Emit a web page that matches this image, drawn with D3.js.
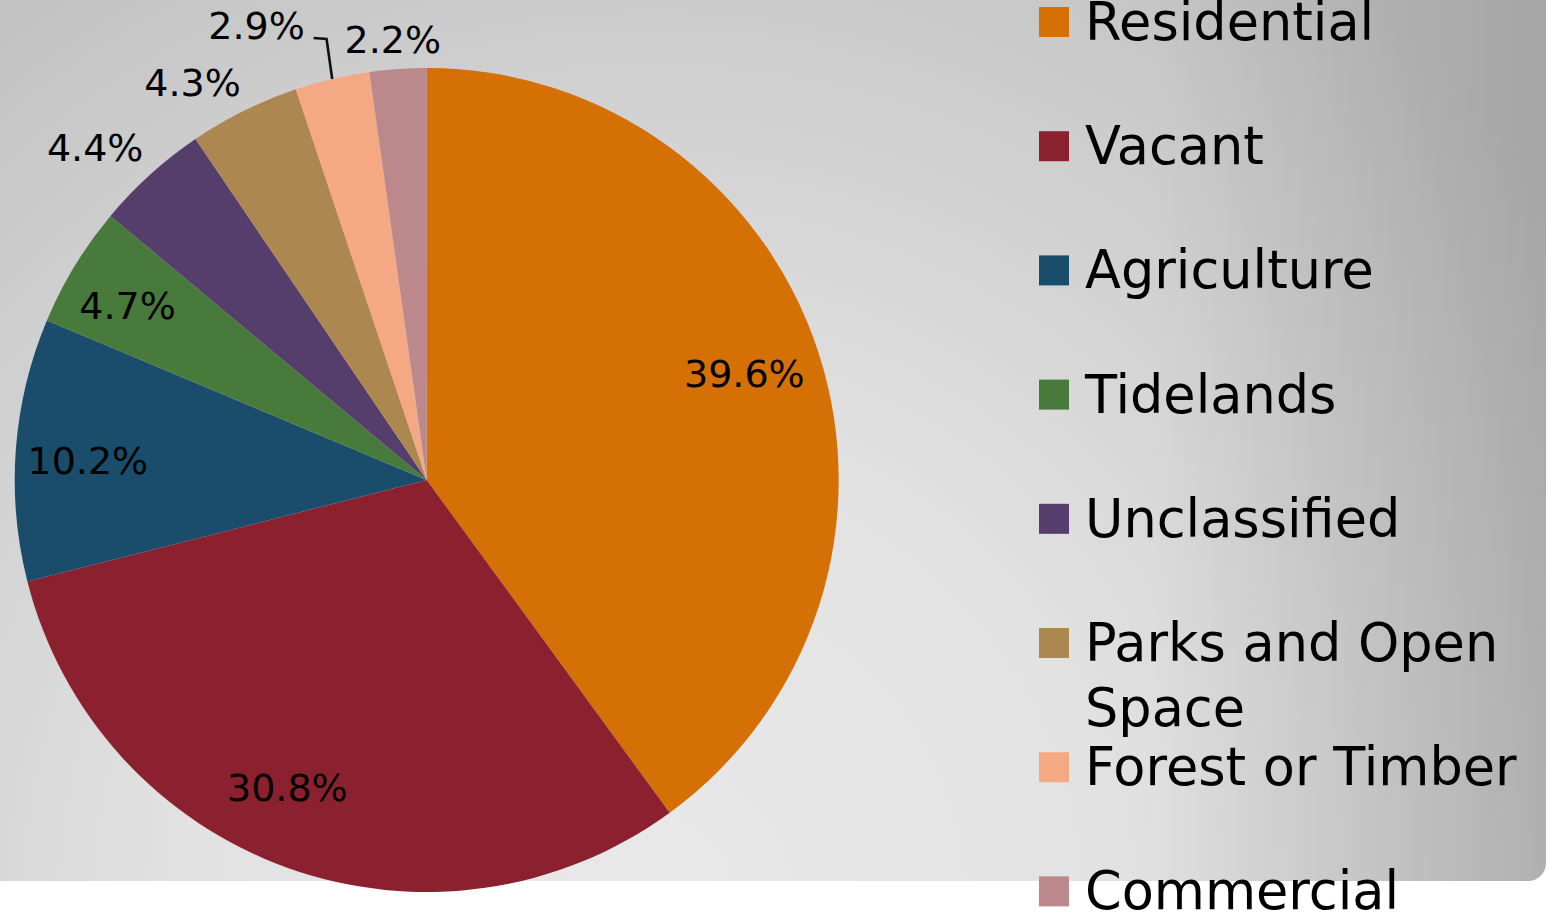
<!DOCTYPE html>
<html>
<head>
<meta charset="utf-8">
<script src="https://cdn.jsdelivr.net/npm/d3@7"></script>
<style>
  html, body { margin: 0; padding: 0; background: #ffffff; overflow: hidden; }
  svg { display: block; }
</style>
</head>
<body>
<svg id="chart" width="1548" height="913"></svg>
<script>
// ---- data ----
const categories = ["Residential", "Vacant", "Agriculture", "Tidelands", "Unclassified", "Parks and Open Space", "Forest or Timber", "Commercial"];
const shares = [39.6, 30.8, 10.2, 4.7, 4.4, 4.3, 2.9, 2.2];
const sliceColors = ["#d57005", "#8b212f", "#194d6b", "#477a3b", "#553e6b", "#ad8750", "#f5a884", "#bb888b"];

// ---- layout (label placement as polar angle in degrees / radius factor) ----
const labelPolar = [[71.5, 0.813], [204.4, 0.819], [273.4, 0.824], [300.3, 0.841], [315.1, 1.14], [329.5, 1.12], [339.5, 1.179], [355.6, 1.074]];

const W = 1548, H = 913;
const cx = 426.7, cy = 480, R = 412;
const svg = d3.select("#chart");

// background
const defs = svg.append("defs");
const rg = defs.append("radialGradient").attr("id", "bg")
  .attr("gradientUnits", "userSpaceOnUse")
  .attr("cx", 650).attr("cy", 900).attr("r", 1150)
  .attr("fx", 650).attr("fy", 900);
rg.append("stop").attr("offset", 0).attr("stop-color", "#e9e9e9");
rg.append("stop").attr("offset", 0.4).attr("stop-color", "#e2e2e2");
rg.append("stop").attr("offset", 0.8).attr("stop-color", "#cbcbcb");
rg.append("stop").attr("offset", 1).attr("stop-color", "#c0c0c0");
const lg = defs.append("linearGradient").attr("id", "shade")
  .attr("gradientUnits", "userSpaceOnUse")
  .attr("x1", 1150).attr("y1", 0).attr("x2", 1548).attr("y2", 0);
lg.append("stop").attr("offset", 0).attr("stop-color", "#000").attr("stop-opacity", 0);
lg.append("stop").attr("offset", 1).attr("stop-color", "#000").attr("stop-opacity", 0.14);

svg.append("rect").attr("x", -30).attr("y", -30).attr("width", 1576).attr("height", 911)
  .attr("rx", 18).attr("fill", "url(#bg)");
svg.append("rect").attr("x", -30).attr("y", -30).attr("width", 1576).attr("height", 911)
  .attr("rx", 18).attr("fill", "url(#shade)");

// pie
const data = categories.map((c, i) => ({ name: c, value: shares[i], color: sliceColors[i], lp: labelPolar[i] }));
const pie = d3.pie().sort(null).value(d => d.value);
const arcs = pie(data);
const arc = d3.arc().innerRadius(0).outerRadius(R);
const g = svg.append("g").attr("transform", `translate(${cx},${cy})`);
g.selectAll("path.slice").data(arcs).enter().append("path")
  .attr("class", "slice")
  .attr("d", arc)
  .attr("fill", d => d.data.color);

// labels
const fs = 38;
const polar = (deg, rr) => [Math.sin(deg * Math.PI / 180) * rr, -Math.cos(deg * Math.PI / 180) * rr];
g.selectAll("text.lbl").data(arcs).enter().append("text")
  .attr("class", "lbl")
  .attr("x", d => polar(d.data.lp[0], d.data.lp[1] * R)[0])
  .attr("y", d => polar(d.data.lp[0], d.data.lp[1] * R)[1] + fs * 0.36)
  .attr("text-anchor", "middle")
  .attr("font-family", "DejaVu Sans, Verdana, sans-serif")
  .attr("font-size", fs)
  .attr("fill", "#000")
  .text(d => d.data.value.toFixed(1) + "%");

// leader line for Forest or Timber label
const fIdx = 6;
const fa = arcs[fIdx];
const midDeg = ((fa.startAngle + fa.endAngle) / 2) * 180 / Math.PI;
const endPt = polar(midDeg, R);
const lblPt = polar(labelPolar[fIdx][0], labelPolar[fIdx][1] * R);
const lblRight = lblPt[0] + 57;
g.append("path")
  .attr("d", d3.line()([[lblRight, lblPt[1] + 13], [lblRight + 13, lblPt[1] + 14], endPt]))
  .attr("fill", "none").attr("stroke", "#111").attr("stroke-width", 2.6);

// legend
const legX = 1039, legY0 = 7, legStep = 124.2, sw = 30, lfs = 52.5, maxW = 455;
const leg = svg.append("g");
data.forEach((d, i) => {
  const y = legY0 + i * legStep;
  leg.append("rect").attr("x", legX).attr("y", y).attr("width", sw).attr("height", sw).attr("fill", d.color);
  const t = leg.append("text")
    .attr("font-family", "DejaVu Sans, Verdana, sans-serif")
    .attr("font-size", lfs).attr("fill", "#000");
  const words = d.name.split(" ");
  let line = [];
  let tspan = t.append("tspan").attr("x", legX + 46).attr("y", y + 33);
  let lineNo = 0;
  words.forEach(w => {
    line.push(w);
    tspan.text(line.join(" "));
    if (tspan.node().getComputedTextLength() > maxW && line.length > 1) {
      line.pop();
      tspan.text(line.join(" "));
      line = [w];
      lineNo++;
      tspan = t.append("tspan").attr("x", legX + 46).attr("y", y + 33 + lineNo * 65).text(w);
    }
  });
});
</script>
</body>
</html>
